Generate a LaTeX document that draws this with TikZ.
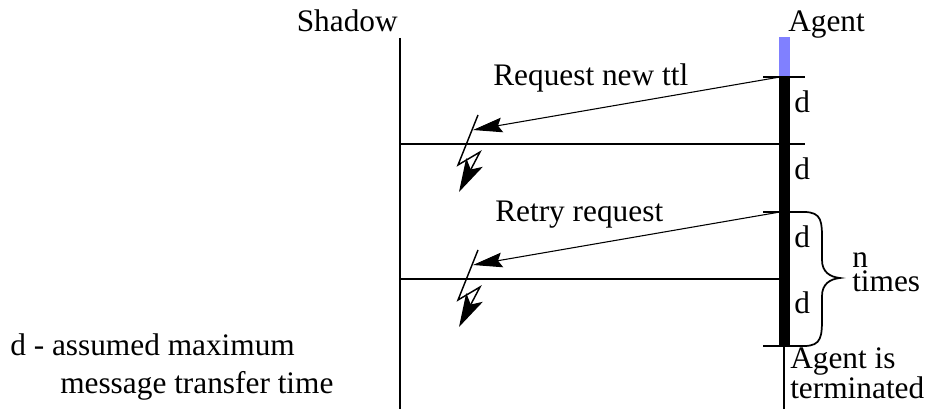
\documentclass[tikz,border=0pt]{standalone}
\usepackage{fontspec}
\setmainfont{Liberation Serif}
\usetikzlibrary{arrows.meta}
\begin{document}
\begin{tikzpicture}[
            x=0.75pt, y=-0.75pt,
            txt/.style={inner sep=0pt, font=\rmfamily\fontsize{23.5}{28}\selectfont},
            lifeline/.style={line width=1.2pt},
            tickline/.style={line width=1.5pt},
            msg/.style={line width=0.8pt, -{Stealth[length=22pt, width=11pt, inset=3pt]}},
            bolt/.style={line width=1.1pt, -{Stealth[length=25pt, width=14pt, inset=6pt]}},
            bracket/.style={line width=1.3pt}
        ]
        \useasboundingbox (0,0) rectangle (927,409);

        % Linha de vida: Shadow
        \node[txt, anchor=base east] (shadow) at (398,32) {Shadow};
        \coordinate (shadow-top) at (400,38);
        \coordinate (shadow-bot) at (400,409);
        \draw[lifeline] (shadow-top) -- (shadow-bot);

        % Linha de vida: Agent
        \node[txt, anchor=base west] (agent) at (788,32) {Agent};
        \fill[blue!50] (779,37) rectangle (790,77);
        \fill[black] (779,77) rectangle (790,347);
        \coordinate (agent-end) at (784,347);
        \coordinate (agent-bot) at (784,409);
        \draw[lifeline] (agent-end) -- (agent-bot);

        % Marcas de tempo
        \draw[tickline] (763,77) -- (805,77);
        \draw[tickline] (400,144) -- (805,144);
        \draw[tickline] (763,212) -- (805,212);
        \draw[tickline] (400,279) -- (784,279);
        \draw[tickline] (763,346) -- (805,346);

        \node[txt, anchor=base west] (d1) at (794,113) {d};
        \node[txt, anchor=base west] (d2) at (794,180) {d};
        \node[txt, anchor=base west] (d3) at (794,248) {d};
        \node[txt, anchor=base west] (d4) at (794,314) {d};

        % Mensagens
        \node[txt, anchor=base west] (req-label) at (493,86) {Request new ttl};
        \coordinate (req-from) at (780,77);
        \coordinate (req-to) at (473,130);
        \draw[msg] (req-from) -- (req-to);

        \node[txt, anchor=base west] (retry-label) at (495,222) {Retry request};
        \coordinate (retry-from) at (780,212);
        \coordinate (retry-to) at (473,265);
        \draw[msg] (retry-from) -- (retry-to);

        % Mensagens perdidas
        \draw[bolt] (478,115) -- (458,165) -- (480,152) -- (459,192);
        \draw[bolt] (478,250) -- (458,300) -- (480,287) -- (459,327);

        % Chave: n vezes
        \draw[bracket] (804,212) .. controls (822,212) and (822,222) .. (822,240)
            -- (822,260) .. controls (822,272) and (830,277) .. (840,278)
            .. controls (830,279) and (822,284) .. (822,296)
            -- (822,316) .. controls (822,336) and (822,346) .. (804,346);
        \node[txt, anchor=base west, align=left, font=\rmfamily\fontsize{23.5}{18.5}\selectfont] (ntimes) at (852,292) {n\\times};

        \node[txt, anchor=base west, align=left, font=\rmfamily\fontsize{23.5}{21}\selectfont] (terminated) at (790,398) {Agent is\\terminated};

        % Legenda
        \node[txt, anchor=base west] (legend) at (10,355) {d - assumed maximum};
        \node[txt, anchor=base west] (legend-cont) at (60,393) {message transfer time};

    \end{tikzpicture}
\end{document}
